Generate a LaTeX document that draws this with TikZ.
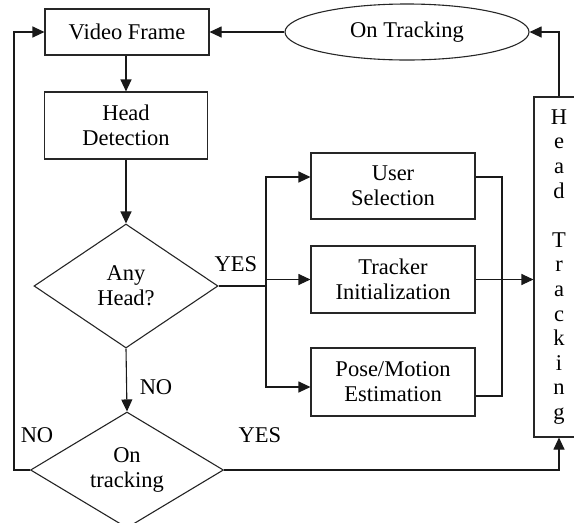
\documentclass[tikz,border=0pt]{standalone}
\usepackage{fontspec}
\setmainfont{Liberation Serif}
\usetikzlibrary{shapes.geometric,arrows.meta}
\tikzset{
  every node/.style={font=\fontsize{22.5}{25}\selectfont},
  box/.style={draw=black!85, line width=1.1pt, rectangle, inner sep=0pt, align=center},
  dia/.style={draw=black!85, line width=1.1pt, diamond, aspect=1.6, inner sep=0pt, align=center},
  oval/.style={draw=black!85, line width=1.1pt, ellipse, inner sep=0pt},
  lbl/.style={inner sep=0pt},
  conn/.style={draw=black!90, line width=1.1pt},
  arr/.style={conn, -{Triangle[length=12pt,width=11pt]}}
}
\begin{document}
\begin{tikzpicture}[x=1pt,y=-1pt]
\useasboundingbox (0,0) rectangle (574,523);
\clip (0,0) rectangle (574,523);
% nodes
\node[box, minimum width=164, minimum height=46] (vf) at (127,32) {Video Frame};
\node[box, minimum width=163, minimum height=67] (hd) at (126,125.5) {Head\\Detection};
\node[dia, minimum width=184, minimum height=124] (ah) at (126,286) {Any\\Head?};
\node[dia, minimum width=193, minimum height=116] (ot) at (127,470) {On\\tracking};
\node[box, minimum width=164, minimum height=66] (us) at (393,186) {User\\Selection};
\node[box, minimum width=164, minimum height=67] (ti) at (393,279.5) {Tracker\\Initialization};
\node[box, minimum width=164, minimum height=68] (pm) at (393,382) {Pose/Motion\\Estimation};
\node[box, minimum width=50, minimum height=340, font=\fontsize{22.5}{24.6}\selectfont] (ht) at (559,267)
  {H\\e\\a\\d\\[24.6pt]T\\r\\a\\c\\k\\i\\n\\g};
\node[oval, minimum width=244, minimum height=56] (ell) at (407,32) {On Tracking};
% labels
\node[lbl] (yes1) at (236,264) {YES};
\node[lbl] (no1) at (156,387) {NO};
\node[lbl] (no2) at (37,435) {NO};
\node[lbl] (yes2) at (260,435) {YES};
% coordinates
\coordinate (br) at (266,286);
\coordinate (rc) at (502,286);
\coordinate (lx) at (14,470);
% connectors
\draw[arr] (vf.south -| hd.north) -- (hd.north);
\draw[arr] (hd.south) -- (ah.north);
\draw[arr] (ah.south) -- (ot.north);
\draw[conn] (ah.east) -- (br);
\draw[arr] (br) |- ([yshift=9pt]us.west);
\draw[arr] (br) |- ([yshift=-5pt]pm.west);
\draw[arr] (br |- ti.west) -- (ti.west);
\draw[conn] ([yshift=9pt]us.east) -| (rc) |- ([yshift=-14pt]pm.east);
\draw[arr] (ti.east) -- (ti.east -| ht.west);
\draw[arr] (ot.west) -- (lx) |- (vf.west);
\draw[arr] (ot.east) -| (ht.south);
\draw[arr] (ht.north) |- (ell.east);
\draw[arr] (ell.west) -- (vf.east);
\end{tikzpicture}
\end{document}
